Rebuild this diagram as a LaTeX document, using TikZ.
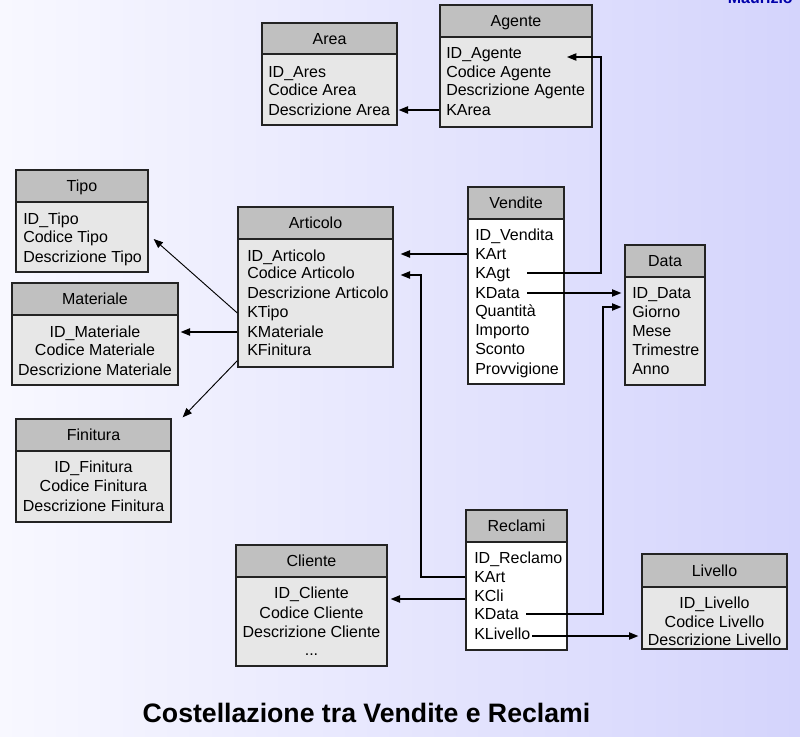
\documentclass[tikz,border=0pt]{standalone}
\usepackage{fontspec}
\setmainfont{Liberation Sans}
\usetikzlibrary{fit,arrows.meta,calc}
\definecolor{bgl}{RGB}{248,248,255}
\definecolor{bgr}{RGB}{212,212,252}
\definecolor{hdrgray}{RGB}{192,192,192}
\definecolor{bodygray}{RGB}{231,231,231}
\definecolor{edge}{RGB}{35,35,35}
\definecolor{mblue}{RGB}{0,0,170}
\newcommand\dbtable[8]{%
  \node[bodybox, fill=#8, fit={(#2,#5)(#4,#6)}] (#1) {};
  \node[hdrbox, fit={(#2,#3)(#4,#5)}] (#1-h) {};
  \node[rowc] (#1-t) at (#1-h.center) {#7};
}
\begin{document}
\begin{tikzpicture}[x=0.75pt,y=-0.75pt,
  hdrbox/.style={draw=edge, line width=1pt, fill=hdrgray, inner sep=0pt},
  bodybox/.style={draw=edge, line width=1pt, inner sep=0pt},
  rowl/.style={anchor=west, inner sep=0pt, text height=8.6pt, text depth=0pt, font=\fontsize{12}{14}\selectfont},
  rowc/.style={anchor=center, inner sep=0pt, text height=8.6pt, text depth=0pt, font=\fontsize{12}{14}\selectfont},
  conn/.style={line width=0.9pt, draw=black},
  arr/.style={conn, -{Triangle[length=7pt,width=5.5pt]}},
  diag/.style={line width=0.7pt, draw=black, -{Triangle[length=7pt,width=5.5pt]}}
]
\shade[left color=bgl, right color=bgr] (0,0) rectangle (800,736);
\useasboundingbox (0,0) rectangle (800,736);

% Area
\dbtable{area}{262}{23}{397}{54}{125}{Area}{bodygray}
\node[rowl] (area-1) at (268,72) {ID\_Ares};
\node[rowl] (area-2) at (268,90) {Codice Area};
\node[rowl] (area-3) at (268,110) {Descrizione Area};

% Agente
\dbtable{agt}{440}{5}{592}{37}{127}{Agente}{bodygray}
\node[rowl] (agt-1) at (446,53) {ID\_Agente};
\node[rowl] (agt-2) at (446,72) {Codice Agente};
\node[rowl] (agt-3) at (446,90) {Descrizione Agente};
\node[rowl] (agt-4) at (446,110) {KArea};

% Tipo
\dbtable{tipo}{16}{170}{148}{202}{272}{Tipo}{bodygray}
\node[rowl] (tipo-1) at (23,219) {ID\_Tipo};
\node[rowl] (tipo-2) at (23,237) {Codice Tipo};
\node[rowl] (tipo-3) at (23,257) {Descrizione Tipo};

% Materiale
\dbtable{mat}{12}{283}{178}{315}{385}{Materiale}{bodygray}
\node[rowc] (mat-1) at (95,332) {ID\_Materiale};
\node[rowc] (mat-2) at (95,350) {Codice Materiale};
\node[rowc] (mat-3) at (95,370) {Descrizione Materiale};

% Finitura
\dbtable{fin}{16}{419}{171}{451}{522}{Finitura}{bodygray}
\node[rowc] (fin-1) at (93.5,467) {ID\_Finitura};
\node[rowc] (fin-2) at (93.5,486) {Codice Finitura};
\node[rowc] (fin-3) at (93.5,506) {Descrizione Finitura};

% Articolo
\dbtable{art}{238}{207}{393}{239}{367}{Articolo}{bodygray}
\node[rowl] (art-1) at (247,256) {ID\_Articolo};
\node[rowl] (art-2) at (247,273) {Codice Articolo};
\node[rowl] (art-3) at (247,293) {Descrizione Articolo};
\node[rowl] (art-4) at (247,312) {KTipo};
\node[rowl] (art-5) at (247,332) {KMateriale};
\node[rowl] (art-6) at (247,350) {KFinitura};

% Vendite
\dbtable{ven}{468}{187}{564}{219}{384}{Vendite}{white}
\node[rowl] (ven-1) at (475,235) {ID\_Vendita};
\node[rowl] (ven-2) at (475,254) {KArt};
\node[rowl] (ven-3) at (475,273) {KAgt};
\node[rowl] (ven-4) at (475,293) {KData};
\node[rowl] (ven-5) at (475,311) {Quantità};
\node[rowl] (ven-6) at (475,330) {Importo};
\node[rowl] (ven-7) at (475,349) {Sconto};
\node[rowl] (ven-8) at (475,369) {Provvigione};

% Data
\dbtable{dat}{625}{245}{705}{277}{385}{Data}{bodygray}
\node[rowl] (dat-1) at (632,293) {ID\_Data};
\node[rowl] (dat-2) at (632,312) {Giorno};
\node[rowl] (dat-3) at (632,331) {Mese};
\node[rowl] (dat-4) at (632,350) {Trimestre};
\node[rowl] (dat-5) at (632,369) {Anno};

% Reclami
\dbtable{rec}{466}{510}{567}{542}{650}{Reclami}{white}
\node[rowl] (rec-1) at (474,558) {ID\_Reclamo};
\node[rowl] (rec-2) at (474,577) {KArt};
\node[rowl] (rec-3) at (474,596) {KCli};
\node[rowl] (rec-4) at (474,614) {KData};
\node[rowl] (rec-5) at (474,634) {KLivello};

% Cliente
\dbtable{cli}{236}{545}{387}{577}{666}{Cliente}{bodygray}
\node[rowc] (cli-1) at (311.5,593) {ID\_Cliente};
\node[rowc] (cli-2) at (311.5,613) {Codice Cliente};
\node[rowc] (cli-3) at (311.5,632) {Descrizione Cliente};
\node[rowc] (cli-4) at (311.5,650) {...};

% Livello
\dbtable{liv}{642}{554}{787}{587}{649}{Livello}{bodygray}
\node[rowc] (liv-1) at (714.5,603) {ID\_Livello};
\node[rowc] (liv-2) at (714.5,622) {Codice Livello};
\node[rowc] (liv-3) at (714.5,640) {Descrizione Livello};

% connectors
\coordinate (agtin) at (567,57);
\draw[arr] (agt.west |- agt-4) -- ($(area.east |- agt-4)+(1,0)$);
\draw[arr] ($(ven-3.west)+(52,0)$) -- (601,273) -- (601,57) -- (agtin);
\draw[arr] (ven.west |- ven-2) -- ($(art.east |- ven-2)+(7,0)$);
\draw[arr] ($(ven-4.west)+(52,0)$) -- ($(dat.west |- ven-4)+(-3,0)$);
\draw[arr] (rec.west |- rec-2) -- (421,577) -- (421,275) -- ($(art.east |- art-2)+(7,2)$);
\draw[arr] ($(rec.west |- rec-3)+(0,3)$) -- ($(cli.east |- rec-3)+(3,3)$);
\draw[arr] ($(rec-4.west)+(52,0)$) -- (603,614) -- (603,307) -- ($(dat.west |- dat-2)+(-3,-5)$);
\draw[arr] ($(rec-5.west)+(58,2)$) -- ($(liv.west |- rec-5)+(-3,2)$);
\draw[diag] ($(art.west |- art-4)+(0,1)$) -- ($(tipo.east)+(5,2)$);
\draw[arr] (art.west |- art-5) -- ($(mat.east |- art-5)+(2,0)$);
\draw[diag] ($(art.south west)+(0,-7)$) -- ($(fin-h.north east)+(11,-1)$);

% title and author
\node[font=\bfseries\fontsize{20}{24}\selectfont, anchor=base, inner sep=0pt] (title) at (366.5,722) {Costellazione tra Vendite e Reclami};
\node[font=\bfseries\fontsize{12}{14}\selectfont, text=mblue, anchor=base east, inner sep=0pt] (auth) at (793,3) {Maurizio};
\end{tikzpicture}
\end{document}
